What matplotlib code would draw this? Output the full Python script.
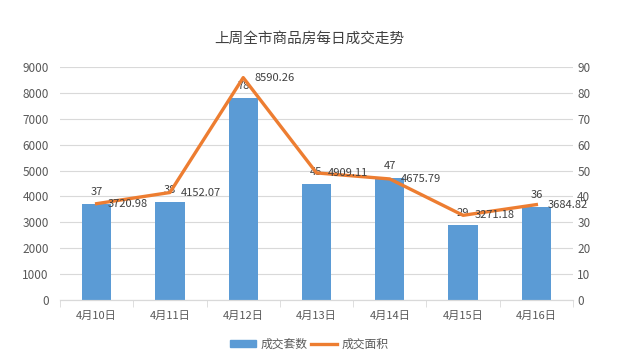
import matplotlib
matplotlib.use("Agg")
import matplotlib.pyplot as plt
from matplotlib.ticker import MultipleLocator, FixedLocator
from matplotlib.patches import Patch
from matplotlib.lines import Line2D

plt.rcParams['font.family'] = ['Noto Sans CJK SC', 'DejaVu Sans']

categories = ["4月10日", "4月11日", "4月12日", "4月13日", "4月14日", "4月15日", "4月16日"]
units = [37, 38, 78, 45, 47, 29, 36]
area = [3720.98, 4152.07, 8590.26, 4909.11, 4675.79, 3271.18, 3684.82]
area_labels = ["3720.98", "4152.07", "8590.26", "4909.11", "4675.79", "3271.18", "3684.82"]

bar_color = "#5B9BD5"
line_color = "#ED7D31"
text_color = "#595959"
grid_color = "#D9D9D9"

fig = plt.figure(figsize=(6.19, 3.62), dpi=100)
ax = fig.add_axes([60/619, 1-300/362, (573-60)/619, (300-67)/362])
ax2 = ax.twinx()

x = list(range(len(categories)))

# bars on right axis
ax2.bar(x, units, width=0.4, color=bar_color, zorder=2)
ax2.set_ylim(0, 90)
ax2.yaxis.set_major_locator(MultipleLocator(10))

# line on left axis
ax.plot(x, area, color=line_color, linewidth=2.4, zorder=5)
ax.set_ylim(0, 9000)
ax.yaxis.set_major_locator(MultipleLocator(1000))
ax.set_xlim(-0.5, len(categories) - 0.5)

ax.set_zorder(ax2.get_zorder() + 1)
ax.patch.set_visible(False)

ax.set_xticks(x)
ax.set_xticklabels(categories)
ax.xaxis.set_minor_locator(FixedLocator([i - 0.5 for i in range(len(categories) + 1)]))
ax.tick_params(axis='x', which='major', length=0, pad=8, labelsize=8, labelcolor=text_color)
ax.tick_params(axis='x', which='minor', length=5, color=grid_color, direction='out')
ax.tick_params(axis='y', length=0, labelsize=8.5, labelcolor=text_color, pad=8)
ax2.tick_params(axis='y', length=0, labelsize=8.5, labelcolor=text_color, pad=3)

for a in (ax, ax2):
    for s in ("top", "left", "right"):
        a.spines[s].set_visible(False)
    a.spines["bottom"].set_color(grid_color)

ax2.grid(axis='y', color=grid_color, linewidth=0.8, zorder=0)
ax2.set_axisbelow(True)

for xi, u in zip(x, units):
    ax2.annotate(str(u), (xi, u), xytext=(0, 5), textcoords='offset points',
                 ha='center', va='bottom', fontsize=8, color="#404040", zorder=6)
for xi, a_, lab in zip(x, area, area_labels):
    ax.annotate(lab, (xi, a_), xytext=(8, 0), textcoords='offset points',
                ha='left', va='center', fontsize=8, color="#404040", zorder=6)

fig.text(0.5, 1-39/362, "上周全市商品房每日成交走势", ha='center', va='center',
         fontsize=10.5, color="#404040", fontweight='medium')

handles = [Patch(color=bar_color), Line2D([0], [0], color=line_color, linewidth=2.4)]
fig.legend(handles, ["成交套数", "成交面积"], loc='center', bbox_to_anchor=(0.5, 1-344/362),
           ncol=2, frameon=False, fontsize=8.5, labelcolor=text_color,
           handlelength=2.2, handleheight=0.6, columnspacing=0.3, handletextpad=0.4)

fig.savefig("out.png", dpi=100, facecolor='white')
